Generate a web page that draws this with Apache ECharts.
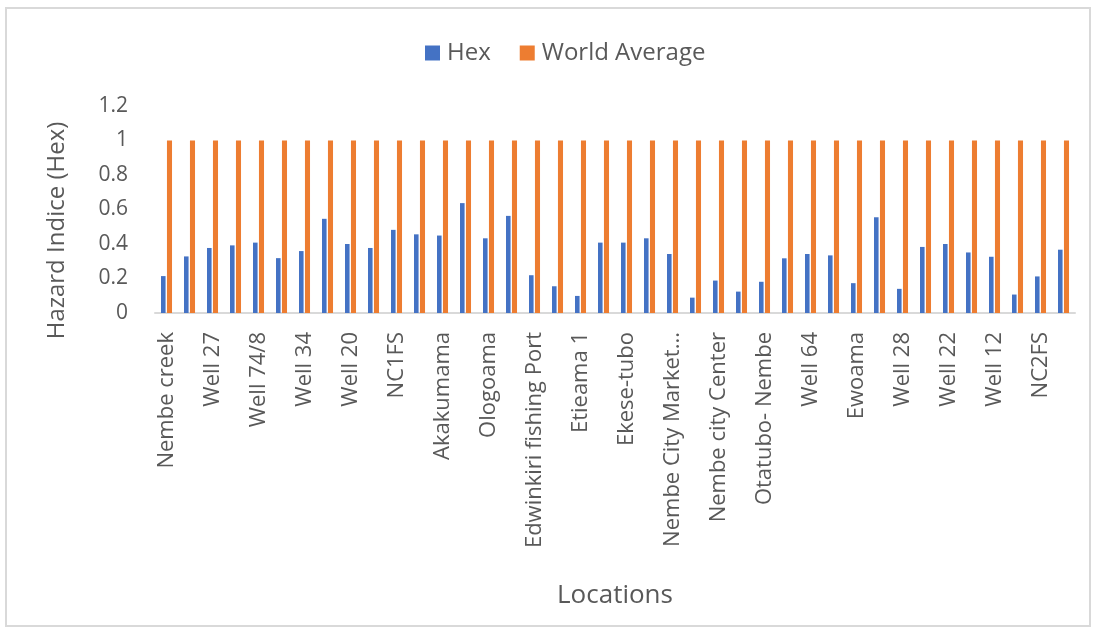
<!DOCTYPE html>
<html>
<head>
<meta charset="utf-8">
<script src="https://cdn.jsdelivr.net/npm/echarts@6/dist/echarts.min.js"></script>
<style>
  html, body { margin: 0; padding: 0; background: #fff; }
  #frame { position: absolute; left: 5px; top: 7px; width: 1082px; height: 616px; border: 2px solid #d9d9d9; }
  #chart { position: absolute; left: 0; top: 0; width: 1097px; height: 632px; }
</style>
</head>
<body>
<div id="frame"></div>
<div id="chart"></div>
<script>
// locations (only every other one is labelled in the original chart)
var locations = [
  'Nembe creek', 'Nembe creek 2', 'Well 27', 'Well 26', 'Well 74/8', 'Well 74/9',
  'Well 34', 'Well 33', 'Well 20', 'Well 21', 'NC1FS', 'NC1FS 2',
  'Akakumama', 'Akakumama 2', 'Ologoama', 'Ologoama 2', 'Edwinkiri fishing Port', 'Edwinkiri 2',
  'Etieama 1', 'Etieama 2', 'Ekese-tubo', 'Ekese 2', 'Nembe City Market...', 'Nembe City 2',
  'Nembe city Center', 'Nembe city 3', 'Otatubo- Nembe', 'Otatubo 2', 'Well 64', 'Well 65',
  'Ewoama', 'Ewoama 2', 'Well 28', 'Well 29', 'Well 22', 'Well 23',
  'Well 12', 'Well 13', 'NC2FS', 'NC2FS 2'
]
var hexValues = [
  0.214, 0.328, 0.377, 0.392, 0.408, 0.318, 0.359, 0.546, 0.400, 0.377,
  0.482, 0.456, 0.449, 0.637, 0.433, 0.563, 0.219, 0.155, 0.099, 0.408,
  0.408, 0.433, 0.342, 0.089, 0.188, 0.124, 0.181, 0.317, 0.342, 0.334,
  0.173, 0.555, 0.140, 0.383, 0.400, 0.351, 0.326, 0.107, 0.212, 0.367
]
var worldAverage = locations.map(function () { return 1 })
var yTicks = [0, 0.2, 0.4, 0.6, 0.8, 1, 1.2]

var textColor = '#595959'
var font = 'Open Sans'

var myChart = echarts.init(document.getElementById('chart'))
var options = {
  animation: false,
  textStyle: { fontFamily: font },
  legend: {
    top: 36,
    left: 420,
    itemWidth: 15,
    itemHeight: 15,
    itemGap: 29,
    icon: 'rect',
    textStyle: { color: textColor, fontSize: 24, fontFamily: font, padding: [0, 0, 0, 2] }
  },
  grid: { left: 155, right: 22, top: 106, bottom: 319 },
  xAxis: {
    type: 'category',
    data: locations,
    name: 'Locations',
    nameLocation: 'middle',
    nameGap: 270,
    nameTextStyle: { color: textColor, fontSize: 26, fontFamily: font },
    axisLine: { lineStyle: { color: '#d9d9d9', width: 2 } },
    axisTick: { show: false },
    axisLabel: {
      interval: 1,
      rotate: 90,
      margin: 19,
      color: textColor,
      fontSize: 22,
      fontFamily: font
    }
  },
  yAxis: {
    type: 'value',
    min: 0,
    max: 1.2,
    interval: 0.2,
    name: 'Hazard Indice (Hex)',
    nameLocation: 'middle',
    nameGap: 86,
    nameTextStyle: { color: textColor, fontSize: 24, fontFamily: font, padding: [0, 42, 0, 0] },
    axisLine: { show: false },
    axisTick: { show: false },
    splitLine: { show: false },
    axisLabel: {
      margin: 27,
      color: textColor,
      fontSize: 21,
      fontFamily: font,
      formatter: function (v) {
        var t = yTicks.find(function (x) { return Math.abs(x - v) < 1e-6 })
        return t === undefined ? '' : String(t)
      }
    }
  },
  series: [
    {
      name: 'Hex',
      type: 'bar',
      data: hexValues,
      barWidth: '20%',
      barGap: '30%',
      itemStyle: { color: '#4472C4' }
    },
    {
      name: 'World Average',
      type: 'bar',
      data: worldAverage,
      barWidth: '22%',
      itemStyle: { color: '#ED7D31' }
    }
  ]
}
myChart.setOption(options)
</script>
</body>
</html>
